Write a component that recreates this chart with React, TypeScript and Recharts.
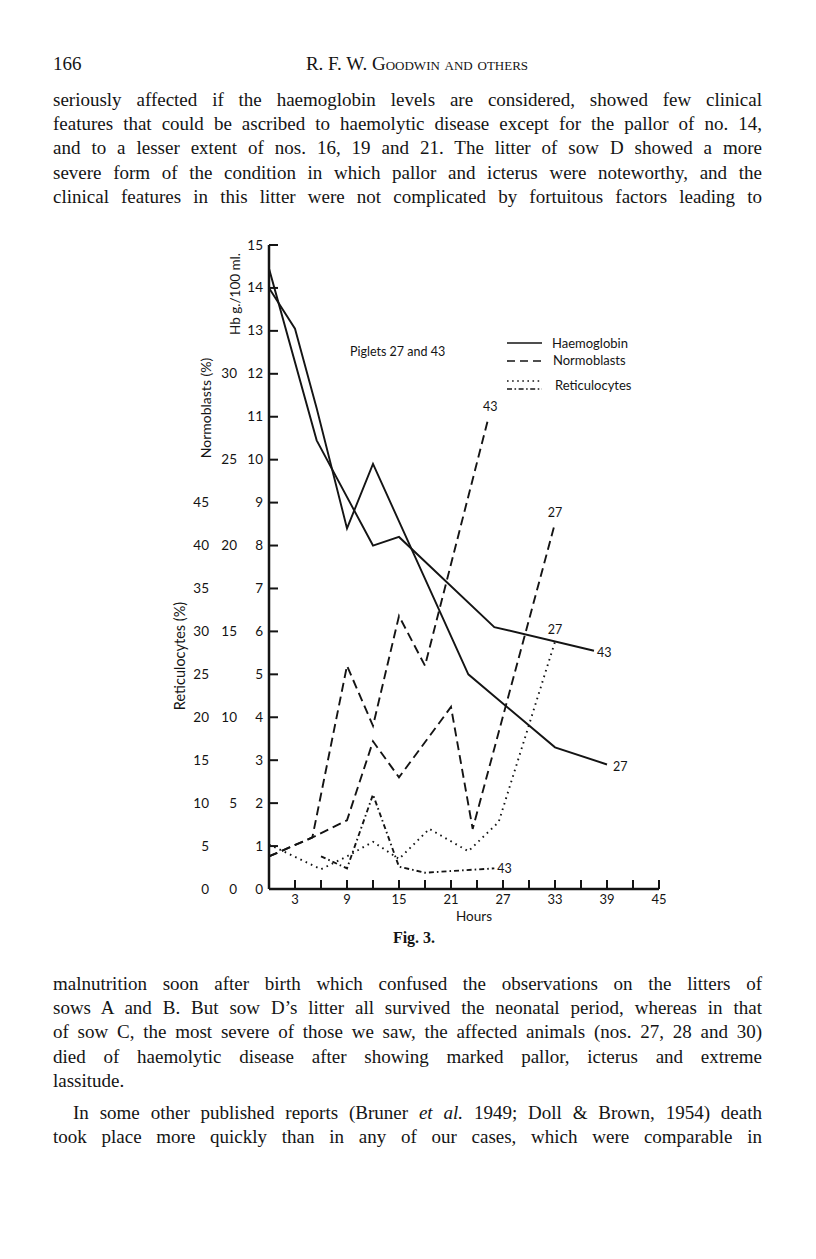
import React from "react";
import { LineChart, Line, XAxis, YAxis } from "recharts";

const hourTicks = [3, 6, 9, 12, 15, 18, 21, 24, 27, 30, 33, 36, 39, 42, 45];
const hbTicks = [0, 1, 2, 3, 4, 5, 6, 7, 8, 9, 10, 11, 12, 13, 14, 15];
const normoTicks = [0, 5, 10, 15, 20, 25, 30];
const reticTicks = [0, 5, 10, 15, 20, 25, 30, 35, 40, 45];

// haemoglobin, g./100 ml.
const hb27 = [
  { h: 0, v: 14.0 },
  { h: 3, v: 13.05 },
  { h: 5.5, v: 11.2 },
  { h: 9, v: 8.4 },
  { h: 12, v: 9.9 },
  { h: 23, v: 5.0 },
  { h: 33, v: 3.3 },
  { h: 39, v: 2.9 },
];
const hb43 = [
  { h: 0, v: 14.45 },
  { h: 5.5, v: 10.45 },
  { h: 12, v: 8.0 },
  { h: 15, v: 8.2 },
  { h: 26, v: 6.1 },
  { h: 37.5, v: 5.55 },
];

// normoblasts, %
const normo27 = [
  { h: 0, v: 1.9 },
  { h: 5, v: 3.0 },
  { h: 9, v: 4.0 },
  { h: 12, v: 8.6 },
  { h: 15, v: 6.5 },
  { h: 21, v: 10.6 },
  { h: 23.5, v: 3.5 },
  { h: 33, v: 21.3 },
];
const normo43 = [
  { h: 0, v: 1.9 },
  { h: 5, v: 3.0 },
  { h: 9, v: 13.0 },
  { h: 12, v: 9.5 },
  { h: 15, v: 15.9 },
  { h: 18, v: 13.0 },
  { h: 25.3, v: 27.4 },
];

// reticulocytes, %
const retic27 = [
  { h: 0, v: 5.2 },
  { h: 6, v: 2.3 },
  { h: 9, v: 3.8 },
  { h: 12, v: 5.5 },
  { h: 15, v: 3.5 },
  { h: 18.5, v: 7.0 },
  { h: 23, v: 4.4 },
  { h: 26.5, v: 7.8 },
  { h: 33, v: 28.8 },
];
const retic43 = [
  { h: 6, v: 3.8 },
  { h: 9, v: 2.4 },
  { h: 12, v: 11.0 },
  { h: 15, v: 2.6 },
  { h: 18, v: 1.9 },
  { h: 26, v: 2.4 },
];

const topLines = [
  "seriously affected if the haemoglobin levels are considered, showed few clinical",
  "features that could be ascribed to haemolytic disease except for the pallor of no. 14,",
  "and to a lesser extent of nos. 16, 19 and 21. The litter of sow D showed a more",
  "severe form of the condition in which pallor and icterus were noteworthy, and the",
  "clinical features in this litter were not complicated by fortuitous factors leading to",
];
const bottomLines = [
  "malnutrition soon after birth which confused the observations on the litters of",
  "sows A and B. But sow D\u2019s litter all survived the neonatal period, whereas in that",
  "of sow C, the most severe of those we saw, the affected animals (nos. 27, 28 and 30)",
  "died of haemolytic disease after showing marked pallor, icterus and extreme",
  "lassitude.",
];
const bottomLines2 = [
  "In some other published reports (Bruner et al. 1949; Doll & Brown, 1954) death",
  "took place more quickly than in any of our cases, which were comparable in",
];

const ink = "#141414";
const sans = "Lato, 'Open Sans', sans-serif";
const serif = "'Liberation Serif', 'DejaVu Serif', serif";

const HourTick = (p: any) => {
  const { x, y, payload } = p;
  return (
    <g>
      <line x1={x} y1={y} x2={x} y2={y - 9} stroke={ink} strokeWidth={2} />
      {payload.value % 6 === 3 && (
        <text x={x} y={y + 15} textAnchor="middle" fontSize={13} fontFamily={sans} fill={ink}>
          {payload.value}
        </text>
      )}
    </g>
  );
};

const HbTick = (p: any) => {
  const { x, y, payload } = p;
  return (
    <g>
      <line x1={x} y1={y} x2={x + 9} y2={y} stroke={ink} strokeWidth={2} />
      <text x={x - 6} y={y + 4.5} textAnchor="end" fontSize={13.5} fontFamily={sans} fill={ink}>
        {payload.value}
      </text>
    </g>
  );
};

const sideTick = (shift: number) => (p: any) => (
  <text x={p.x + shift} y={p.y + 4.5} textAnchor="end" fontSize={13.5} fontFamily={sans} fill={ink}>
    {p.payload.value}
  </text>
);

function endLabel(text: string, n: number, dx: number, dy: number, anchor = "start") {
  return (p: any) =>
    p.index === n - 1 ? (
      <text x={p.x + dx} y={p.y + dy} textAnchor={anchor} fontSize={12.5} fontFamily={sans} fill={ink}>
        {text}
      </text>
    ) : (
      <g />
    );
}

const TextRow = ({ top, text, last, indent = 0 }: { top: number; text: React.ReactNode; last?: boolean; indent?: number }) => (
  <div
    style={{
      position: "absolute",
      top,
      left: 53 + indent,
      width: 709 - indent,
      fontSize: 19,
      lineHeight: "24px",
      whiteSpace: "nowrap",
      textAlign: last ? "left" : "justify",
      textAlignLast: last ? "left" : "justify",
      color: ink,
    }}
  >
    {text}
  </div>
);

const rotated = (text: string, cx: number, cy: number, size: number) => (
  <div
    style={{
      position: "absolute",
      left: cx,
      top: cy,
      transform: "translate(-50%, -50%) rotate(-90deg)",
      whiteSpace: "nowrap",
      fontFamily: sans,
      fontSize: size,
      color: ink,
    }}
  >
    {text}
  </div>
);

function withItalic(s: string) {
  const i = s.indexOf("et al.");
  if (i < 0) return s;
  return (
    <>
      {s.slice(0, i)}
      <i>et al.</i>
      {s.slice(i + 6)}
    </>
  );
}

export default function App() {
  const solid = { stroke: ink, strokeWidth: 1.9, dot: false, isAnimationActive: false, type: "linear" as const };
  return (
    <div style={{ position: "absolute", left: 0, top: 0, width: 816, height: 1259, background: "#fff", fontFamily: serif, color: ink }}>
      <div style={{ position: "absolute", left: 53, top: 52, fontSize: 19, lineHeight: "24px" }}>166</div>
      <div style={{ position: "absolute", left: 252, top: 52, width: 330, textAlign: "center", fontSize: 19, lineHeight: "24px", fontVariant: "small-caps" }}>
        R. F. W. Goodwin and others
      </div>
      {topLines.map((t, i) => (
        <TextRow key={i} top={88 + i * 24.2} text={t} />
      ))}

      <div style={{ position: "absolute", left: 150, top: 230 }}>
        <LineChart width={530} height={700} margin={{ top: 15, right: 21, bottom: 11, left: 29 }}>
          <XAxis
            dataKey="h"
            type="number"
            domain={[0, 45]}
            ticks={hourTicks}
            allowDataOverflow
            height={30}
            tickSize={0}
            tickMargin={0}
            tickLine={false}
            axisLine={{ stroke: ink, strokeWidth: 2.5 }}
            tick={<HourTick />}
          />
          <YAxis
            yAxisId="hb"
            type="number"
            domain={[0, 15]}
            ticks={hbTicks}
            allowDataOverflow
            width={30}
            tickSize={0}
            tickMargin={0}
            tickLine={false}
            axisLine={{ stroke: ink, strokeWidth: 2.5 }}
            tick={<HbTick />}
          />
          <YAxis
            yAxisId="n"
            type="number"
            domain={[0, 37.5]}
            ticks={normoTicks}
            allowDataOverflow
            width={30}
            tickSize={0}
            tickMargin={0}
            tickLine={false}
            axisLine={false}
            tick={sideTick(-2)}
          />
          <YAxis
            yAxisId="r"
            type="number"
            domain={[0, 75]}
            ticks={reticTicks}
            allowDataOverflow
            width={30}
            tickSize={0}
            tickMargin={0}
            tickLine={false}
            axisLine={false}
            tick={sideTick(0)}
          />
          <Line {...solid} yAxisId="hb" data={hb43} dataKey="v" label={endLabel("43", hb43.length, 3, 6)} />
          <Line {...solid} yAxisId="hb" data={hb27} dataKey="v" label={endLabel("27", hb27.length, 6, 7)} />
          <Line {...solid} yAxisId="n" data={normo43} dataKey="v" strokeDasharray="9 5" label={endLabel("43", normo43.length, 2, -7, "middle")} />
          <Line {...solid} yAxisId="n" data={normo27} dataKey="v" strokeDasharray="9 5" label={endLabel("27", normo27.length, 0, -6, "middle")} />
          <Line {...solid} yAxisId="r" data={retic27} dataKey="v" strokeDasharray="1.6 4.2" label={endLabel("27", retic27.length, 0, -8, "middle")} />
          <Line {...solid} yAxisId="r" data={retic43} dataKey="v" strokeDasharray="5 3 1.6 3" label={endLabel("43", retic43.length, 3, 5)} />
        </LineChart>
      </div>

      {rotated("Hb g./100 ml.", 235, 294, 13.5)}
      {rotated("Normoblasts (%)", 205, 408, 14)}
      {rotated("Reticulocytes (%)", 179, 656, 14.5)}

      <div style={{ position: "absolute", left: 350, top: 344, fontFamily: sans, fontSize: 12.5, color: ink }}>Piglets 27 and 43</div>

      <svg style={{ position: "absolute", left: 500, top: 332 }} width={160} height={66}>
        <line x1={7} y1={11} x2={42} y2={11} stroke={ink} strokeWidth={1.6} />
        <line x1={7} y1={29} x2={42} y2={29} stroke={ink} strokeWidth={1.6} strokeDasharray="8 5" />
        <line x1={7} y1={49} x2={42} y2={49} stroke={ink} strokeWidth={1.6} strokeDasharray="1.6 3.5" />
        <line x1={7} y1={57} x2={42} y2={57} stroke={ink} strokeWidth={1.6} strokeDasharray="5 2.5 1.6 2.5" />
        <text x={52} y={16} fontFamily={sans} fontSize={13} fill={ink}>Haemoglobin</text>
        <text x={53} y={33} fontFamily={sans} fontSize={13} fill={ink}>Normoblasts</text>
        <text x={55} y={58} fontFamily={sans} fontSize={13} fill={ink}>Reticulocytes</text>
      </svg>

      <div style={{ position: "absolute", left: 474, top: 908, transform: "translateX(-50%)", fontFamily: sans, fontSize: 13.5, color: ink }}>Hours</div>
      <div style={{ position: "absolute", left: 414, top: 929, transform: "translateX(-50%)", fontSize: 16, fontWeight: 600 }}>Fig. 3.</div>

      {bottomLines.map((t, i) => (
        <TextRow key={"b" + i} top={972 + i * 24.2} text={t} last={i === bottomLines.length - 1} />
      ))}
      {bottomLines2.map((t, i) => (
        <TextRow key={"c" + i} top={1101 + i * 24.2} text={withItalic(t)} indent={i === 0 ? 20 : 0} />
      ))}
    </div>
  );
}
